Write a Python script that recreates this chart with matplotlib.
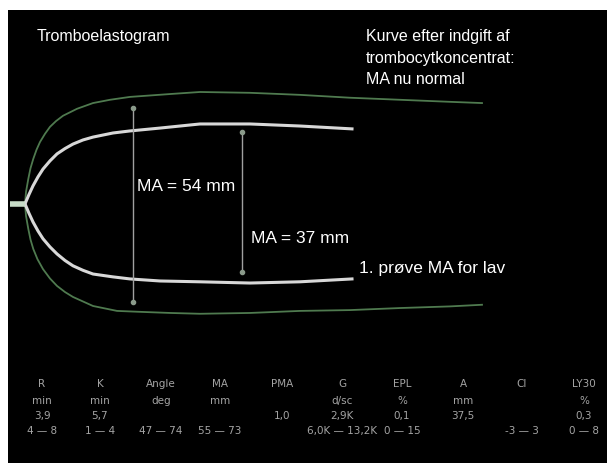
import matplotlib.pyplot as plt
import numpy as np

plt.rcParams['font.family'] = ['Liberation Sans', 'DejaVu Sans']

# trace: time (min) and half amplitude (mm)
t_white = [1.7, 2.1, 2.5, 3.0, 3.5, 4.2, 4.9, 5.7, 6.5, 7.5, 8.5, 10.5, 12.2, 15.2, 19.2, 24.2, 29.2, 34.4]
white_top = [0, 2.3, 4.4, 6.6, 8.5, 10.5, 12.2, 13.5, 14.6, 15.6, 16.3, 17.3, 17.8, 18.5, 19.5, 19.5, 19.0, 18.3]
white_bot = [0, -2.3, -4.4, -6.6, -8.5, -10.5, -12.2, -13.8, -15.1, -16.2, -17.1, -17.8, -18.3, -18.8, -19.0, -19.3, -19.0, -18.3]

t_green_top = [1.7, 1.8, 2.03, 2.25, 2.53, 2.85, 3.2, 3.7, 4.2, 4.8, 5.5, 6.9, 8.5, 10.2, 12.2, 16.2, 19.2, 24.2, 29.2, 34.2, 39.2, 44.2, 47.4]
green_top = [0, 2.9, 6.1, 8.7, 11.0, 13.2, 15.1, 17.1, 18.8, 20.2, 21.5, 23.2, 24.6, 25.4, 26.1, 26.8, 27.3, 27.1, 26.6, 25.9, 25.4, 24.9, 24.6]
t_green_bot = [1.7, 1.8, 2.03, 2.25, 2.53, 2.95, 3.5, 4.2, 4.9, 5.7, 6.5, 8.5, 10.9, 12.9, 16.2, 19.2, 24.2, 29.2, 34.2, 39.2, 44.2, 47.4]
green_bot = [0, -2.9, -6.1, -8.7, -11.0, -13.5, -15.9, -18.2, -20.0, -21.5, -22.7, -24.9, -26.1, -26.3, -26.6, -26.8, -26.6, -26.1, -25.9, -25.4, -25.0, -24.6]

stub_t = [0.2, 1.7]

# MA markers: (time, top, bottom)
ma_new = (12.5, 23.4, -23.9)
ma_old = (23.4, 17.6, -16.6)

params = ['R', 'K', 'Angle', 'MA', 'PMA', 'G', 'EPL', 'A', 'CI', 'LY30']
units = ['min', 'min', 'deg', 'mm', '', 'd/sc', '%', 'mm', '', '%']
values = ['3,9', '5,7', '', '', '1,0', '2,9K', '0,1', '37,5', '', '0,3']
ranges = ['4 — 8', '1 — 4', '47 — 74', '55 — 73', '', '6,0K — 13,2K', '0 — 15', '', '-3 — 3', '0 — 8']

fig = plt.figure(figsize=(6.07, 4.64), dpi=100)
fig.patch.set_facecolor('white')
ax = fig.add_axes([8 / 607, 0, 599 / 607, 453 / 464])
ax.set_facecolor('black')
ax.set_xticks([])
ax.set_yticks([])
for s in ax.spines.values():
    s.set_visible(False)
ax.set_xlim(0, 59.9)
ax.set_ylim(-63.2, 47.3)

green = '#4f7a4f'
ax.plot(t_green_top, green_top, color=green, lw=1.3)
ax.plot(t_green_bot, green_bot, color=green, lw=1.3)
ax.plot(t_white, white_top, color='#d8d8d8', lw=2.2)
ax.plot(t_white, white_bot, color='#d8d8d8', lw=2.2)
ax.plot(stub_t, [0, 0], color='#c8dcc8', lw=4, solid_capstyle='butt')

for t, a, b in [ma_new, ma_old]:
    ax.plot([t, t], [a, b], color='#a0a0a0', lw=1)
    ax.plot([t, t], [a, b], 'o', color='#8a9a8a', ms=3)

def fx(px):
    return (px - 8) / 599

def fy(py):
    return (464 - py) / 453

tr = ax.transAxes
ax.text(fx(37), fy(36), 'Tromboelastogram', color='white', fontsize=11.5, va='center', transform=tr)
for i, line in enumerate(['Kurve efter indgift af', 'trombocytkoncentrat:', 'MA nu normal']):
    ax.text(fx(366), fy(37 + 21 * i), line, color='white', fontsize=11.5, va='center', transform=tr)

ax.text(fx(137), fy(187), 'MA = 54 mm', color='white', fontsize=12.5, va='center', transform=tr)
ax.text(fx(251), fy(239), 'MA = 37 mm', color='white', fontsize=12.5, va='center', transform=tr)
ax.text(fx(359), fy(269), '1. prøve MA for lav', color='white', fontsize=12.5, va='center', transform=tr)

col_x = [42, 100, 161, 220, 282, 342, 402, 463, 522, 584]
row_y = [384, 401, 416, 431]
for j, rowdata in enumerate([params, units, values, ranges]):
    for i, txt in enumerate(rowdata):
        ax.text(fx(col_x[i]), fy(row_y[j]), txt, color='#a4a4a4', fontsize=7.5,
                ha='center', va='center', transform=tr,
                family=['Liberation Sans Narrow', 'DejaVu Sans'])

plt.savefig('out.png', dpi=100, facecolor=fig.get_facecolor())
